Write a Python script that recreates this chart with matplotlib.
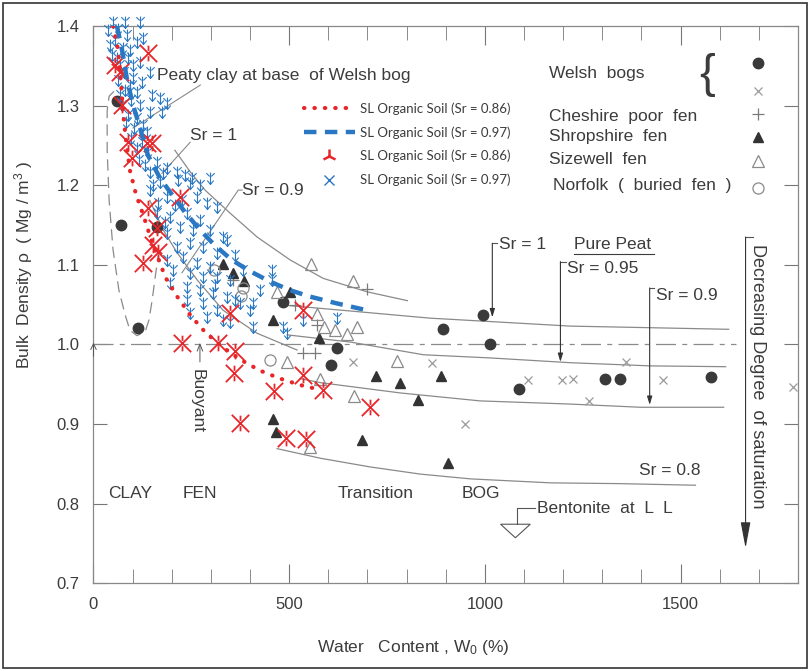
import matplotlib
matplotlib.use('Agg')
import matplotlib.pyplot as plt
from matplotlib.path import Path
from matplotlib.lines import Line2D
from matplotlib.patches import Polygon, Rectangle

plt.rcParams['font.family'] = ['Liberation Sans', 'DejaVu Sans']
plt.rcParams['mathtext.default'] = 'regular'

TXT = '#3c3c3c'
GRID = '#8a8a8a'
RED = '#e8262a'
BLUE = '#2a78c4'

# ---- field data (water content %, bulk density Mg/m3) ----
welsh_dot_w = [60, 70, 114, 162, 485, 623, 608, 894, 996, 1012, 1086, 1306, 1344, 1577]
welsh_dot_rho = [1.306, 1.150, 1.021, 1.148, 1.053, 0.996, 0.974, 1.019, 1.037, 1.000,
                 0.944, 0.957, 0.957, 0.959]

welsh_x_w = [664, 866, 948, 1109, 1196, 1226, 1265, 1360, 1454, 1786]
welsh_x_rho = [0.978, 0.977, 0.900, 0.955, 0.955, 0.957, 0.929, 0.978, 0.955, 0.947]

cheshire_w = [357, 515, 571, 700, 536, 566]
cheshire_rho = [1.081, 1.049, 1.025, 1.070, 0.989, 0.989]

shrop_w = [332, 357, 385, 459, 501, 577, 722, 782, 830, 889, 459, 467, 685, 907]
shrop_rho = [1.101, 1.090, 1.080, 1.031, 1.066, 1.008, 0.960, 0.951, 0.930, 0.960,
             0.906, 0.890, 0.880, 0.851]

sizewell_w = [557, 664, 469, 570, 588, 616, 648, 672, 495, 580, 666, 776, 554]
sizewell_rho = [1.101, 1.080, 1.066, 1.038, 1.022, 1.018, 1.013, 1.022, 0.978, 0.957,
                0.935, 0.979, 0.871]

norfolk_w = [308, 383, 377, 451]
norfolk_rho = [1.093, 1.071, 1.061, 0.980]

# SL organic soil, Sr = 0.86
sl86_w = [55, 68, 139, 73, 88, 137, 150, 98, 221, 139, 162, 152, 165, 127, 349, 226,
          318, 362, 359, 462, 536, 536, 587, 707, 375, 492, 543]
sl86_rho = [1.351, 1.342, 1.366, 1.301, 1.254, 1.253, 1.253, 1.234, 1.185, 1.171, 1.146,
            1.125, 1.116, 1.102, 1.039, 1.002, 1.002, 0.992, 0.964, 0.941, 0.962, 1.043,
            0.943, 0.921, 0.901, 0.882, 0.881]

# SL organic soil, Sr = 0.97
sl97_w = [50, 81, 119, 37, 55, 86, 111, 127, 47, 68, 88, 101, 119, 144, 63, 81, 101, 124,
          111, 150, 170, 188, 73, 88, 119, 144, 175, 104, 111, 127, 137, 124, 111, 139,
          162, 188, 144, 214, 234, 252, 298, 170, 178, 216, 247, 144, 188, 226, 265, 290,
          316, 162, 196, 239, 272, 221, 254, 298, 331, 188, 214, 247, 280, 316, 341, 188,
          229, 265, 298, 203, 247, 280, 316, 349, 382, 196, 239, 272, 306, 341, 375, 408,
          239, 280, 316, 247, 290, 331, 400, 457, 457, 408, 485, 536, 623, 495, 349,
          63, 42, 75, 93, 60, 78, 93, 68, 96, 83, 96, 116, 132, 152, 165, 183, 208, 272,
          362, 311, 426, 362]
sl97_rho = [1.405, 1.405, 1.405, 1.395, 1.382, 1.389, 1.380, 1.385, 1.364, 1.351, 1.360,
            1.351, 1.355, 1.342, 1.332, 1.320, 1.335, 1.330, 1.317, 1.313, 1.310, 1.303,
            1.301, 1.288, 1.301, 1.292, 1.292, 1.272, 1.284, 1.276, 1.267, 1.254, 1.247,
            1.242, 1.229, 1.222, 1.217, 1.217, 1.213, 1.209, 1.209, 1.204, 1.215, 1.207,
            1.203, 1.194, 1.185, 1.181, 1.185, 1.178, 1.173, 1.165, 1.160, 1.165, 1.156,
            1.147, 1.144, 1.144, 1.135, 1.140, 1.122, 1.127, 1.122, 1.115, 1.131, 1.106,
            1.110, 1.102, 1.097, 1.093, 1.090, 1.085, 1.085, 1.081, 1.093, 1.077, 1.072,
            1.068, 1.065, 1.060, 1.052, 1.052, 1.056, 1.052, 1.043, 1.039, 1.034, 1.031,
            1.043, 1.093, 1.081, 1.022, 1.022, 1.031, 1.033, 1.014, 1.028,
            1.397, 1.376, 1.372, 1.370, 1.360, 1.342, 1.326, 1.313, 1.307, 1.279, 1.259,
            1.232, 1.225, 1.200, 1.178, 1.154, 1.175, 1.200, 1.112, 1.075, 1.068, 1.056]

# fitted SL curves
fit86_w = [50, 63, 70, 75, 83, 93, 109, 127, 144, 164, 184, 214, 247, 286, 329, 375,
           426, 477, 528, 579]
fit86_rho = [1.400, 1.370, 1.332, 1.294, 1.257, 1.219, 1.188, 1.163, 1.137, 1.110, 1.084,
             1.060, 1.037, 1.015, 0.997, 0.981, 0.967, 0.957, 0.949, 0.943]

fit97_w = [60, 73, 86, 101, 119, 139, 170, 201, 234, 272, 311, 354, 400, 451, 503, 554,
           618, 689]
fit97_rho = [1.400, 1.370, 1.332, 1.301, 1.272, 1.238, 1.209, 1.188, 1.166, 1.144, 1.124,
             1.106, 1.092, 1.079, 1.068, 1.060, 1.052, 1.044]

# saturation lines
sr1_clay_w = [208, 247, 285, 349, 418, 503, 587, 700, 802]
sr1_clay_rho = [1.244, 1.217, 1.194, 1.165, 1.135, 1.106, 1.083, 1.066, 1.055]

sr09_clay_w = [144, 178, 214, 265, 331, 418, 520]
sr09_clay_rho = [1.181, 1.144, 1.115, 1.081, 1.043, 1.014, 0.993]

sr1_peat_w = [495, 656, 860, 1040, 1219, 1423, 1623]
sr1_peat_rho = [1.049, 1.042, 1.033, 1.028, 1.023, 1.021, 1.019]

sr095_w = [495, 656, 843, 1014, 1219, 1423, 1615]
sr095_rho = [1.012, 1.003, 0.987, 0.983, 0.977, 0.973, 0.972]

sr09_w = [528, 579, 784, 988, 1219, 1398, 1610]
sr09_rho = [0.957, 0.952, 0.939, 0.929, 0.925, 0.921, 0.921]

sr08_w = [469, 579, 707, 835, 963, 1168, 1347, 1538]
sr08_rho = [0.869, 0.857, 0.846, 0.837, 0.831, 0.826, 0.825, 0.823]

# envelope around peaty clay points
loop_w = [52, 40, 35, 35, 40, 50, 65, 81, 93, 111, 132, 142, 150, 160, 170]
loop_rho = [1.318, 1.312, 1.294, 1.244, 1.181, 1.119, 1.068, 1.037, 1.018, 1.011, 1.016,
            1.031, 1.056, 1.093, 1.125]

# custom markers
C = Path.MOVETO
L = Path.LINETO
star_mk = Path([(-1, -1), (1, 1), (-1, 1), (1, -1), (0, 0.3), (0, 0.9), (0, -0.3), (0, -0.9)],
               [C, L, C, L, C, L, C, L])
arrow_mk = Path([(0, 1), (0, -1), (-0.55, -0.35), (0, -1), (0.55, -0.35),
                 (-0.7, 0.9), (-0.15, 0.35), (0.7, 0.9), (0.15, 0.35)],
                [C, L, C, L, L, C, L, C, L])

fig = plt.figure(figsize=(8.1, 6.71), dpi=100)
ax = fig.add_axes([0.1154, 0.131, 0.8698, 0.830])

# saturation lines and envelope
for w, r in [(sr1_clay_w, sr1_clay_rho), (sr09_clay_w, sr09_clay_rho),
             (sr1_peat_w, sr1_peat_rho), (sr095_w, sr095_rho),
             (sr09_w, sr09_rho), (sr08_w, sr08_rho)]:
    ax.plot(w, r, color=GRID, lw=0.9, zorder=2)
ax.plot(loop_w, loop_rho, color=GRID, lw=0.9, dashes=(9, 5), zorder=2)
ax.plot([0, 1641], [1.0, 1.0], color=GRID, lw=0.9, dashes=(16, 5, 4, 5), zorder=2)

# field data
ax.plot(welsh_dot_w, welsh_dot_rho, 'o', color='#3a3a3a', ms=7.5, zorder=4)
ax.plot(welsh_x_w, welsh_x_rho, 'x', color='#9a9a9a', ms=6, mew=0.9, zorder=4)
ax.plot(cheshire_w, cheshire_rho, '+', color='#7a7a7a', ms=9, mew=0.9, zorder=4)
ax.plot(shrop_w, shrop_rho, '^', color='#333333', ms=7, zorder=4)
ax.plot(sizewell_w, sizewell_rho, '^', mfc='none', mec='#8a8a8a', ms=8, mew=0.9, zorder=4)
ax.plot(norfolk_w, norfolk_rho, 'o', mfc='none', mec='#8a8a8a', ms=8, mew=0.9, zorder=4)

# SL organic soil
ax.plot(sl97_w, sl97_rho, ls='none', marker=arrow_mk, ms=8.5, mec=BLUE, mfc='none',
        mew=0.8, zorder=5, clip_on=False)
ax.plot(sl86_w, sl86_rho, ls='none', marker=star_mk, ms=12.5, mec=RED, mfc='none',
        mew=1.3, zorder=6)
ax.plot(fit86_w, fit86_rho, color=RED, lw=3, dashes=(0.1, 2.4), dash_capstyle='round',
        zorder=7)
ax.plot(fit97_w, fit97_rho, color=BLUE, lw=3.2, dashes=(2.8, 1.9), zorder=7)

handles = [
    Line2D([], [], color=RED, lw=3, dashes=(0.1, 2.4), dash_capstyle='round'),
    Line2D([], [], color=BLUE, lw=3.2, dashes=(2.8, 1.9)),
    Line2D([], [], ls='none', marker='2', color=RED, ms=10, mew=1.8),
    Line2D([], [], ls='none', marker='x', color=BLUE, ms=7, mew=1.0),
]
labels = ['SL Organic Soil (Sr = 0.86)', 'SL Organic Soil (Sr = 0.97)',
          'SL Organic Soil (Sr = 0.86)', 'SL Organic Soil (Sr = 0.97)']
leg = ax.legend(handles, labels, loc='upper left', bbox_to_anchor=(0.29, 0.875),
                frameon=False, borderpad=0, handlelength=3.8, handletextpad=0.4,
                labelspacing=0.85, prop={'family': 'Lato', 'size': 9.5})
for t in leg.get_texts():
    t.set_color(TXT)

# sample groups listed on the right
kw = dict(color=TXT, fontsize=12.5, va='center')
ax.text(1163, 1.341, 'Welsh  bogs', **kw)
ax.text(1163, 1.286, 'Cheshire  poor  fen', **kw)
ax.text(1163, 1.261, 'Shropshire  fen', **kw)
ax.text(1163, 1.232, 'Sizewell  fen', **kw)
ax.text(1173, 1.200, 'Norfolk  (  buried  fen  )', **kw)
ax.text(1567, 1.338, '{', color=TXT, fontsize=34, va='center', ha='center')
ax.plot([1699], [1.354], 'o', color='#3a3a3a', ms=7.5)
ax.plot([1699], [1.318], 'x', color='#9a9a9a', ms=6, mew=0.9)
ax.plot([1699], [1.289], '+', color='#7a7a7a', ms=9, mew=0.9)
ax.plot([1699], [1.261], '^', color='#333333', ms=7)
ax.plot([1699], [1.230], '^', mfc='none', mec='#8a8a8a', ms=8, mew=0.9)
ax.plot([1699], [1.196], 'o', mfc='none', mec='#8a8a8a', ms=8, mew=0.9)

# annotations
ax.text(162, 1.338, 'Peaty clay at base  of Welsh bog', **kw)
ax.plot([273, 101], [1.326, 1.272], color=GRID, lw=0.8)
ax.text(247, 1.262, 'Sr = 1', **kw)
ax.plot([247, 175], [1.254, 1.215], color=GRID, lw=0.8)
ax.text(380, 1.194, 'Sr = 0.9', **kw)
ax.plot([380, 370, 226], [1.194, 1.194, 1.090], color=GRID, lw=0.8)

arr = dict(arrowstyle='-|>,head_length=0.5,head_width=0.15', color='#333333', lw=0.8,
           shrinkA=0, shrinkB=0)
ax.text(1035, 1.125, 'Sr = 1', **kw)
ax.plot([1030, 1019], [1.127, 1.127], color='#555555', lw=0.8)
ax.annotate('', xy=(1019, 1.034), xytext=(1019, 1.127), arrowprops=arr)
ax.text(1227, 1.125, 'Pure Peat', **kw)
ax.plot([1227, 1433], [1.114, 1.114], color=TXT, lw=0.8)
ax.text(1211, 1.096, 'Sr = 0.95', **kw)
ax.plot([1207, 1193], [1.104, 1.104], color='#555555', lw=0.8)
ax.annotate('', xy=(1193, 0.978), xytext=(1193, 1.104), arrowprops=arr)
ax.text(1436, 1.062, 'Sr = 0.9', **kw)
ax.plot([1433, 1421], [1.071, 1.071], color='#555555', lw=0.8)
ax.annotate('', xy=(1421, 0.924), xytext=(1421, 1.071), arrowprops=arr)
ax.text(1552, 0.842, 'Sr = 0.8', ha='right', color=TXT, fontsize=12.5, va='center')

ax.text(1697, 0.96, 'Decreasing Degree  of saturation', rotation=-90, ha='center',
        va='center', color=TXT, fontsize=13)
ax.plot([1684, 1666], [1.135, 1.135], color='#555555', lw=0.8)
ax.annotate('', xy=(1666, 0.744), xytext=(1666, 1.135),
            arrowprops=dict(arrowstyle='-|>,head_length=1.6,head_width=0.3',
                            color='#333333', lw=0.8, shrinkA=0, shrinkB=0))

ax.text(265, 0.929, 'Buoyant', rotation=-90, ha='center', va='center', color=TXT,
        fontsize=12.5)
ax.annotate('', xy=(272, 1.002), xytext=(272, 0.978),
            arrowprops=dict(arrowstyle='->,head_length=0.5,head_width=0.2',
                            color='#555555', lw=0.7, shrinkA=0, shrinkB=0))
ax.annotate('', xy=(0, 1.002), xytext=(0, 0.985),
            arrowprops=dict(arrowstyle='->,head_length=0.4,head_width=0.2',
                            color='#555555', lw=0.7, shrinkA=0, shrinkB=0))

for s, x in [('CLAY', 93), ('FEN', 273), ('Transition', 720), ('BOG', 991)]:
    ax.text(x, 0.813, s, ha='center', color=TXT, fontsize=12.5, va='center')

ax.text(1134, 0.794, 'Bentonite  at  L  L', color=TXT, fontsize=12.5, va='center')
ax.plot([1129, 1083, 1083], [0.794, 0.794, 0.774], color='#555555', lw=0.8)
ax.add_patch(Polygon([(1040, 0.774), (1116, 0.774), (1078, 0.757)], closed=True,
                     fill=False, ec='#555555', lw=0.8))

# axes
ax.set_xlim(0, 1800)
ax.set_ylim(0.7, 1.4)
ax.set_xticks([0, 500, 1000, 1500])
ax.set_xticks(range(0, 1801, 100), minor=True)
ax.set_yticks([0.7, 0.8, 0.9, 1.0, 1.1, 1.2, 1.3, 1.4])
ax.set_yticklabels(['0.7', '0.8', '0.9', '1.0', '1.1', '1.2', '1.3', '1.4'])
ax.tick_params(axis='x', which='both', direction='in', top=True, colors='#777777',
               labelcolor=TXT, labelsize=12)
ax.tick_params(axis='x', which='major', length=14, pad=10)
ax.tick_params(axis='x', which='minor', length=10)
ax.tick_params(axis='y', direction='in', right=True, length=10, pad=10, colors='#777777',
               labelcolor=TXT, labelsize=12)
for sp in ax.spines.values():
    sp.set_color('#888888')
    sp.set_linewidth(0.9)

ax.set_ylabel('Bulk  Density ρ  ( Mg / m$^3$ )', color=TXT, fontsize=12.5)
ax.yaxis.set_label_coords(-0.083, 0.571)
ax.set_xlabel('Water   Content , W$_0$ (%)', color=TXT, fontsize=12.5)
ax.xaxis.set_label_coords(0.454, -0.099)

fig.add_artist(Rectangle((0.004, 0.005), 0.992, 0.99, transform=fig.transFigure,
                         fill=False, ec='#333333', lw=1.2))

fig.savefig('out.png', dpi=100)
